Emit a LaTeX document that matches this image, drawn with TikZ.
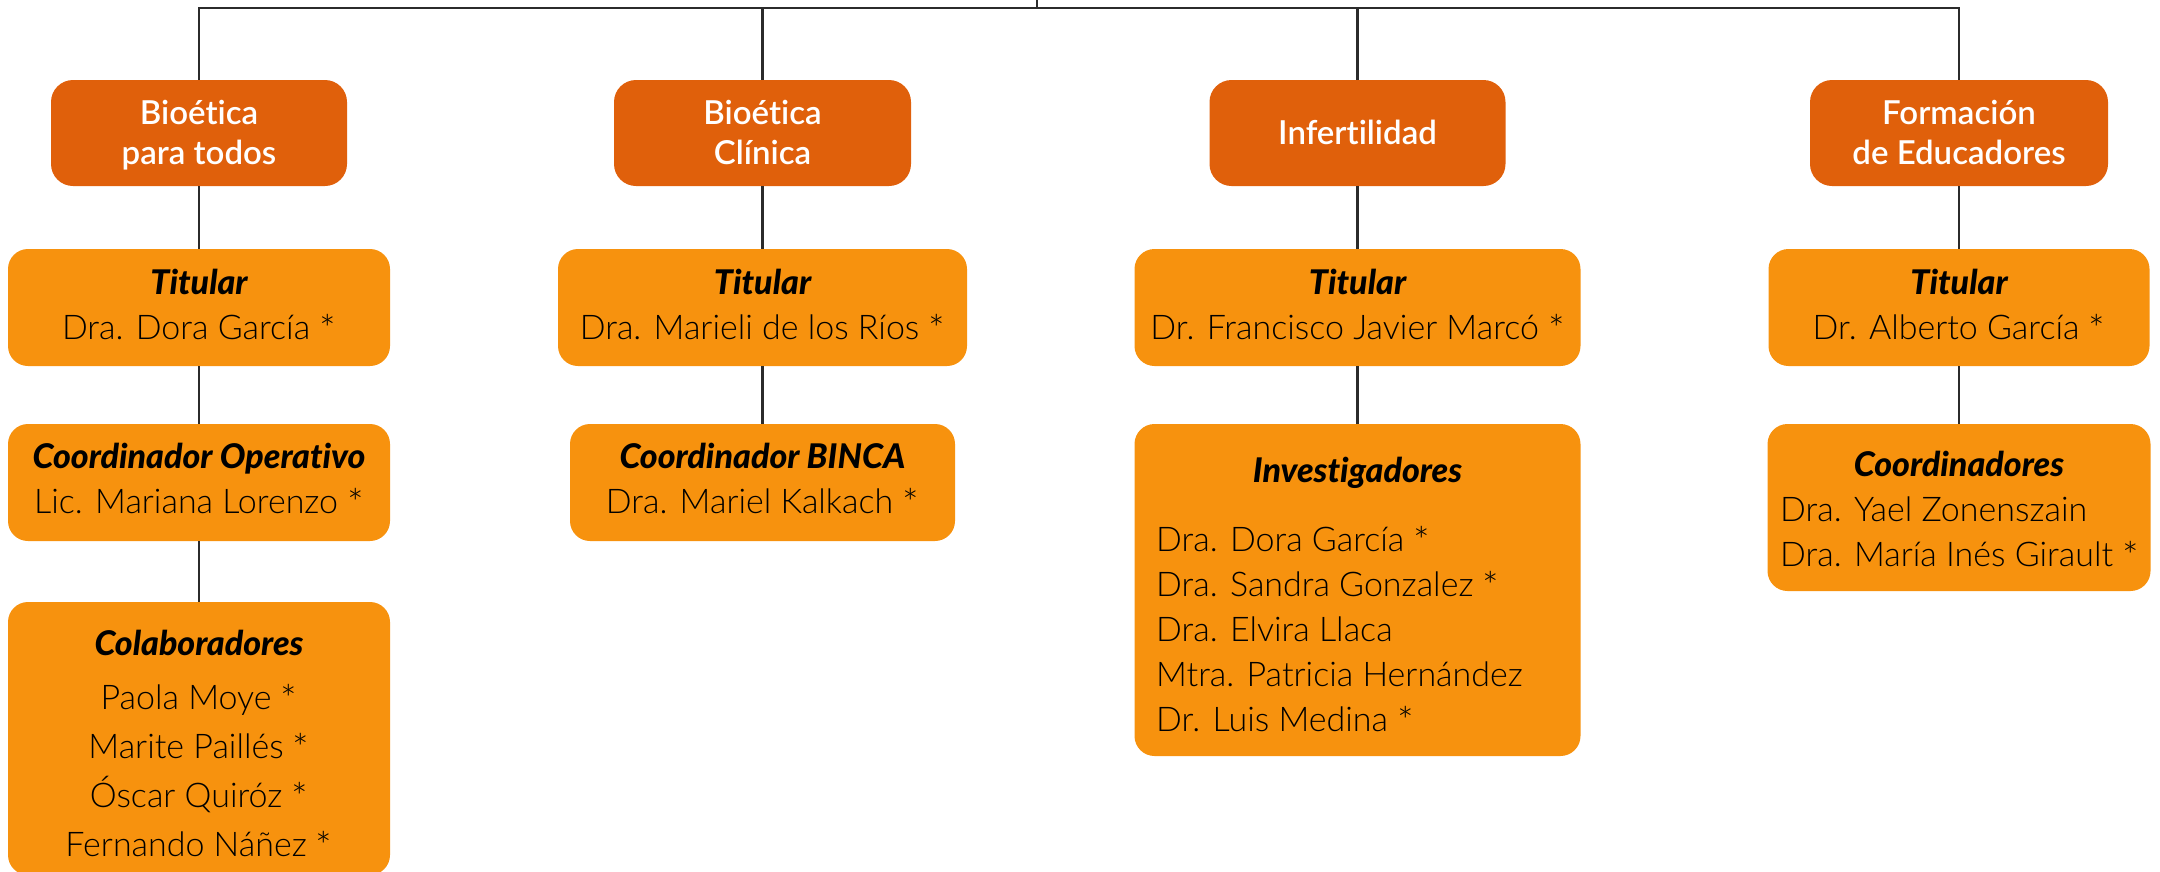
\documentclass[tikz,border=0pt]{standalone}
\usepackage{fontspec}
\usepackage{graphicx}
\setmainfont{Lato}[Ligatures={NoCommon}]
\newfontfamily\lightf{Lato Light}[Ligatures={NoCommon}]
\newfontfamily\medf{Lato Semibold}[Ligatures={NoCommon}]
\newfontfamily\ttlf{Lato Heavy Italic}[Ligatures={NoCommon}]
\definecolor{hdrc}{HTML}{E0600B}
\definecolor{boxc}{HTML}{F7920E}
\definecolor{linec}{HTML}{2B2B2B}
\newcommand{\ttl}[1]{{\ttlf #1}}
\newcommand{\astk}{\raisebox{-0.13em}{\scalebox{1.15}{*}}}
\begin{document}
\begin{tikzpicture}[x=1pt,y=-1pt,
  hdr/.style={fill=hdrc, rounded corners=22pt, minimum height=106pt, inner sep=0pt, draw=none},
  bx/.style={fill=boxc, rounded corners=20pt, inner sep=0pt, draw=none},
  htxt/.style={anchor=base, inner sep=0pt, text=white, font=\medf\fontsize{33}{40}\selectfont},
  ctxt/.style={anchor=base, inner sep=0pt, text=black, font=\lightf\fontsize{34}{45}\selectfont},
  ltxt/.style={anchor=base west, inner sep=0pt, text=black, font=\lightf\fontsize{34}{45}\selectfont},
  conn/.style={draw=linec, line width=2.2pt}]
\path[use as bounding box] (0,0) rectangle (2160,871);

% headers
\node[hdr, minimum width=296pt] (h1) at (199,133) {};
\node[hdr, minimum width=297pt] (h2) at (762.5,133) {};
\node[hdr, minimum width=296pt] (h3) at (1357.5,133) {};
\node[hdr, minimum width=298pt] (h4) at (1959,133) {};

% titular boxes
\node[bx, minimum width=382pt, minimum height=117pt] (t1) at (199,307.5) {};
\node[bx, minimum width=409pt, minimum height=117pt] (t2) at (762.5,307.5) {};
\node[bx, minimum width=446pt, minimum height=117pt] (t3) at (1357.5,307.5) {};
\node[bx, minimum width=381pt, minimum height=117pt] (t4) at (1959,307.5) {};

% second level
\node[bx, minimum width=382pt, minimum height=117pt] (c1) at (199,482.5) {};
\node[bx, minimum width=385pt, minimum height=117pt] (c2) at (762.5,482.5) {};
\node[bx, minimum width=446pt, minimum height=332pt] (c3) at (1357.5,590) {};
\node[bx, minimum width=383pt, minimum height=167pt] (c4) at (1959,507.5) {};

% third level
\node[bx, minimum width=382pt, minimum height=273pt] (d1) at (199,738.5) {};

% connectors
\coordinate (bus) at (1037,8);
\coordinate (topc) at (1037,0);
\draw[conn] (h1.north) |- (bus) -| (h4.north);
\draw[conn] (bus) -- (topc);
\draw[conn] (h2.north) -- (h2.north |- bus);
\draw[conn] (h3.north) -- (h3.north |- bus);
\draw[conn] (h1.south) -- (t1.north);
\draw[conn] (h2.south) -- (t2.north);
\draw[conn] (h3.south) -- (t3.north);
\draw[conn] (h4.south) -- (t4.north);
\draw[conn] (t1.south) -- (c1.north);
\draw[conn] (t2.south) -- (c2.north);
\draw[conn] (t3.south) -- (c3.north);
\draw[conn] (t4.south) -- (c4.north);
\draw[conn] (c1.south) -- (d1.north);

% header texts
\node[htxt] (h1t) at (199,124) {\begin{tabular}[t]{@{}c@{}}Bioética\\para todos\end{tabular}};
\node[htxt] (h2t) at (762.5,124) {\begin{tabular}[t]{@{}c@{}}Bioética\\Clínica\end{tabular}};
\node[htxt] (h3t) at (1357.5,144) {Infertilidad};
\node[htxt] (h4t) at (1959,124) {\begin{tabular}[t]{@{}c@{}}Formación\\de Educadores\end{tabular}};

% titular texts
\node[ctxt] (t1t) at (199,294) {\begin{tabular}[t]{@{}c@{}}\ttl{Titular}\\Dra. Dora García \astk\end{tabular}};
\node[ctxt] (t2t) at (762.5,294) {\begin{tabular}[t]{@{}c@{}}\ttl{Titular}\\Dra. Marieli de los Ríos \astk\end{tabular}};
\node[ctxt] (t3t) at (1357.5,294) {\begin{tabular}[t]{@{}c@{}}\ttl{Titular}\\Dr. Francisco Javier Marcó \astk\end{tabular}};
\node[ctxt] (t4t) at (1959,294) {\begin{tabular}[t]{@{}c@{}}\ttl{Titular}\\Dr. Alberto García \astk\end{tabular}};

% second level texts
\node[ctxt] (c1t) at (199,468) {\begin{tabular}[t]{@{}c@{}}\ttl{Coordinador Operativo}\\Lic. Mariana Lorenzo \astk\end{tabular}};
\node[ctxt] (c2t) at (762.5,468) {\begin{tabular}[t]{@{}c@{}}\ttl{Coordinador BINCA}\\Dra. Mariel Kalkach \astk\end{tabular}};
\node[ctxt] (c3h) at (1357.5,482) {\ttl{Investigadores}};
\node[ltxt] (c3t) at (1156,551) {\begin{tabular}[t]{@{}l@{}}Dra. Dora García \astk\\Dra. Sandra Gonzalez \astk\\Dra. Elvira Llaca\\Mtra. Patricia Hernández\\Dr. Luis Medina \astk\end{tabular}};
\node[ctxt] (c4h) at (1959,476) {\ttl{Coordinadores}};
\node[ltxt] (c4t) at (1780,521) {\begin{tabular}[t]{@{}l@{}}Dra. Yael Zonenszain\\Dra. María Inés Girault \astk\end{tabular}};

% third level texts
\node[ctxt] (d1h) at (199,655) {\ttl{Colaboradores}};
\node[ctxt, font=\lightf\fontsize{34}{49}\selectfont] (d1t) at (199,709) {\begin{tabular}[t]{@{}c@{}}Paola Moye \astk\\Marite Paillés \astk\\Óscar Quiróz \astk\\Fernando Náñez \astk\end{tabular}};
\end{tikzpicture}
\end{document}
